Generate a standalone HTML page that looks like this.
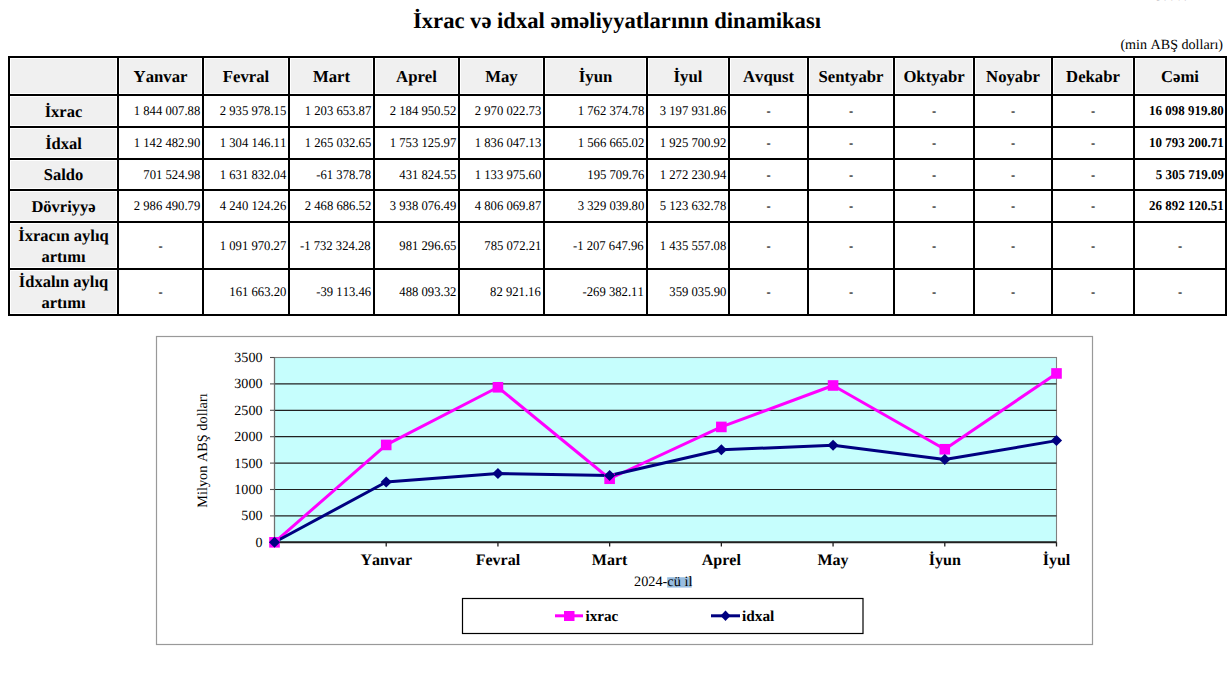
<!DOCTYPE html>
<html><head><meta charset="utf-8"><title>İxrac və idxal</title>
<style>
html,body{margin:0;padding:0;background:#fff;}
body{width:1232px;height:679px;position:relative;overflow:hidden;font-family:"Liberation Serif",serif;color:#000;font-kerning:none;text-rendering:geometricPrecision;}
svg text{font-kerning:none;}
.a{position:absolute;}
.ln{position:absolute;background:#000;}
.c{position:absolute;display:flex;align-items:center;justify-content:center;text-align:center;white-space:nowrap;}
.g{background:#f0f0f0;}
.hd{font-weight:bold;font-size:16.7px;padding-top:2px;box-sizing:border-box;}
.rh{font-weight:bold;font-size:16.5px;line-height:20.8px;padding-top:2px;box-sizing:border-box;}
.n{font-size:13.2px;justify-content:flex-end;padding-right:2px;box-sizing:border-box;}
.n span,.tot span{display:inline-block;transform:scaleX(0.96);transform-origin:100% 50%;}
.tot{font-weight:bold;font-size:13.5px;justify-content:flex-end;padding-right:1px;box-sizing:border-box;}
.d{font-size:12.6px;font-weight:bold;padding-top:1px;box-sizing:border-box;}
.db{font-weight:bold;font-size:12.6px;padding-top:1px;box-sizing:border-box;}
</style></head><body>

<div class="a" style="left:1153px;top:-11px;font-size:14px;line-height:16px;color:#444">Cədvəl 1</div>
<div class="a" style="left:0;width:1232px;top:8px;text-align:center;font-weight:bold;font-size:22.6px;line-height:26px;"><span style="position:relative;left:1px">İxrac və idxal əməliyyatlarının dinamikası</span></div>
<div class="a" style="right:9px;top:36px;font-size:14.1px;line-height:18px;">(min ABŞ dolları)</div>
<div class="a g" style="left:11px;top:59px;width:105px;height:34px"></div>
<div class="a g" style="left:11px;top:97px;width:105px;height:28px"></div>
<div class="a g" style="left:11px;top:129px;width:105px;height:28px"></div>
<div class="a g" style="left:11px;top:161px;width:105px;height:27px"></div>
<div class="a g" style="left:11px;top:192px;width:105px;height:28px"></div>
<div class="a g" style="left:11px;top:224px;width:105px;height:43px"></div>
<div class="a g" style="left:11px;top:271px;width:105px;height:42px"></div>
<div class="a g" style="left:120px;top:59px;width:81px;height:34px"></div>
<div class="a g" style="left:205px;top:59px;width:82px;height:34px"></div>
<div class="a g" style="left:291px;top:59px;width:81px;height:34px"></div>
<div class="a g" style="left:376px;top:59px;width:81px;height:34px"></div>
<div class="a g" style="left:461px;top:59px;width:81px;height:34px"></div>
<div class="a g" style="left:546px;top:59px;width:99px;height:34px"></div>
<div class="a g" style="left:649px;top:59px;width:78px;height:34px"></div>
<div class="a g" style="left:731px;top:59px;width:75px;height:34px"></div>
<div class="a g" style="left:810px;top:59px;width:82px;height:34px"></div>
<div class="a g" style="left:896px;top:59px;width:76px;height:34px"></div>
<div class="a g" style="left:976px;top:59px;width:74px;height:34px"></div>
<div class="a g" style="left:1054px;top:59px;width:78px;height:34px"></div>
<div class="a g" style="left:1136px;top:59px;width:88px;height:34px"></div>
<div class="ln" style="left:8px;top:56px;width:2px;height:260px"></div>
<div class="ln" style="left:117px;top:56px;width:2px;height:260px"></div>
<div class="ln" style="left:202px;top:56px;width:2px;height:260px"></div>
<div class="ln" style="left:288px;top:56px;width:2px;height:260px"></div>
<div class="ln" style="left:373px;top:56px;width:2px;height:260px"></div>
<div class="ln" style="left:458px;top:56px;width:2px;height:260px"></div>
<div class="ln" style="left:543px;top:56px;width:2px;height:260px"></div>
<div class="ln" style="left:646px;top:56px;width:2px;height:260px"></div>
<div class="ln" style="left:728px;top:56px;width:2px;height:260px"></div>
<div class="ln" style="left:807px;top:56px;width:2px;height:260px"></div>
<div class="ln" style="left:893px;top:56px;width:2px;height:260px"></div>
<div class="ln" style="left:973px;top:56px;width:2px;height:260px"></div>
<div class="ln" style="left:1051px;top:56px;width:2px;height:260px"></div>
<div class="ln" style="left:1133px;top:56px;width:2px;height:260px"></div>
<div class="ln" style="left:1225px;top:56px;width:2px;height:260px"></div>
<div class="ln" style="left:8px;top:56px;width:1219px;height:2px"></div>
<div class="ln" style="left:8px;top:94px;width:1219px;height:2px"></div>
<div class="ln" style="left:8px;top:126px;width:1219px;height:2px"></div>
<div class="ln" style="left:8px;top:158px;width:1219px;height:2px"></div>
<div class="ln" style="left:8px;top:189px;width:1219px;height:2px"></div>
<div class="ln" style="left:8px;top:221px;width:1219px;height:2px"></div>
<div class="ln" style="left:8px;top:268px;width:1219px;height:2px"></div>
<div class="ln" style="left:8px;top:314px;width:1219px;height:2px"></div>
<div class="c hd" style="left:119px;top:58px;width:83px;height:36px">Yanvar</div>
<div class="c hd" style="left:204px;top:58px;width:84px;height:36px">Fevral</div>
<div class="c hd" style="left:290px;top:58px;width:83px;height:36px">Mart</div>
<div class="c hd" style="left:375px;top:58px;width:83px;height:36px">Aprel</div>
<div class="c hd" style="left:460px;top:58px;width:83px;height:36px">May</div>
<div class="c hd" style="left:545px;top:58px;width:101px;height:36px">İyun</div>
<div class="c hd" style="left:648px;top:58px;width:80px;height:36px">İyul</div>
<div class="c hd" style="left:730px;top:58px;width:77px;height:36px">Avqust</div>
<div class="c hd" style="left:809px;top:58px;width:84px;height:36px">Sentyabr</div>
<div class="c hd" style="left:895px;top:58px;width:78px;height:36px">Oktyabr</div>
<div class="c hd" style="left:975px;top:58px;width:76px;height:36px">Noyabr</div>
<div class="c hd" style="left:1053px;top:58px;width:80px;height:36px">Dekabr</div>
<div class="c hd" style="left:1135px;top:58px;width:90px;height:36px">Cəmi</div>
<div class="c rh" style="left:10px;top:96px;width:107px;height:30px">İxrac</div>
<div class="c n" style="left:119px;top:96px;width:83px;height:30px"><span>1 844 007.88</span></div>
<div class="c n" style="left:204px;top:96px;width:84px;height:30px"><span>2 935 978.15</span></div>
<div class="c n" style="left:290px;top:96px;width:83px;height:30px"><span>1 203 653.87</span></div>
<div class="c n" style="left:375px;top:96px;width:83px;height:30px"><span>2 184 950.52</span></div>
<div class="c n" style="left:460px;top:96px;width:83px;height:30px"><span>2 970 022.73</span></div>
<div class="c n" style="left:545px;top:96px;width:101px;height:30px"><span>1 762 374.78</span></div>
<div class="c n" style="left:648px;top:96px;width:80px;height:30px"><span>3 197 931.86</span></div>
<div class="c d" style="left:730px;top:96px;width:77px;height:30px">-</div>
<div class="c d" style="left:809px;top:96px;width:84px;height:30px">-</div>
<div class="c d" style="left:895px;top:96px;width:78px;height:30px">-</div>
<div class="c d" style="left:975px;top:96px;width:76px;height:30px">-</div>
<div class="c d" style="left:1053px;top:96px;width:80px;height:30px">-</div>
<div class="c tot" style="left:1135px;top:96px;width:90px;height:30px"><span>16 098 919.80</span></div>
<div class="c rh" style="left:10px;top:128px;width:107px;height:30px">İdxal</div>
<div class="c n" style="left:119px;top:128px;width:83px;height:30px"><span>1 142 482.90</span></div>
<div class="c n" style="left:204px;top:128px;width:84px;height:30px"><span>1 304 146.11</span></div>
<div class="c n" style="left:290px;top:128px;width:83px;height:30px"><span>1 265 032.65</span></div>
<div class="c n" style="left:375px;top:128px;width:83px;height:30px"><span>1 753 125.97</span></div>
<div class="c n" style="left:460px;top:128px;width:83px;height:30px"><span>1 836 047.13</span></div>
<div class="c n" style="left:545px;top:128px;width:101px;height:30px"><span>1 566 665.02</span></div>
<div class="c n" style="left:648px;top:128px;width:80px;height:30px"><span>1 925 700.92</span></div>
<div class="c d" style="left:730px;top:128px;width:77px;height:30px">-</div>
<div class="c d" style="left:809px;top:128px;width:84px;height:30px">-</div>
<div class="c d" style="left:895px;top:128px;width:78px;height:30px">-</div>
<div class="c d" style="left:975px;top:128px;width:76px;height:30px">-</div>
<div class="c d" style="left:1053px;top:128px;width:80px;height:30px">-</div>
<div class="c tot" style="left:1135px;top:128px;width:90px;height:30px"><span>10 793 200.71</span></div>
<div class="c rh" style="left:10px;top:160px;width:107px;height:29px">Saldo</div>
<div class="c n" style="left:119px;top:160px;width:83px;height:29px"><span>701 524.98</span></div>
<div class="c n" style="left:204px;top:160px;width:84px;height:29px"><span>1 631 832.04</span></div>
<div class="c n" style="left:290px;top:160px;width:83px;height:29px"><span>-61 378.78</span></div>
<div class="c n" style="left:375px;top:160px;width:83px;height:29px"><span>431 824.55</span></div>
<div class="c n" style="left:460px;top:160px;width:83px;height:29px"><span>1 133 975.60</span></div>
<div class="c n" style="left:545px;top:160px;width:101px;height:29px"><span>195 709.76</span></div>
<div class="c n" style="left:648px;top:160px;width:80px;height:29px"><span>1 272 230.94</span></div>
<div class="c d" style="left:730px;top:160px;width:77px;height:29px">-</div>
<div class="c d" style="left:809px;top:160px;width:84px;height:29px">-</div>
<div class="c d" style="left:895px;top:160px;width:78px;height:29px">-</div>
<div class="c d" style="left:975px;top:160px;width:76px;height:29px">-</div>
<div class="c d" style="left:1053px;top:160px;width:80px;height:29px">-</div>
<div class="c tot" style="left:1135px;top:160px;width:90px;height:29px"><span>5 305 719.09</span></div>
<div class="c rh" style="left:10px;top:191px;width:107px;height:30px">Dövriyyə</div>
<div class="c n" style="left:119px;top:191px;width:83px;height:30px"><span>2 986 490.79</span></div>
<div class="c n" style="left:204px;top:191px;width:84px;height:30px"><span>4 240 124.26</span></div>
<div class="c n" style="left:290px;top:191px;width:83px;height:30px"><span>2 468 686.52</span></div>
<div class="c n" style="left:375px;top:191px;width:83px;height:30px"><span>3 938 076.49</span></div>
<div class="c n" style="left:460px;top:191px;width:83px;height:30px"><span>4 806 069.87</span></div>
<div class="c n" style="left:545px;top:191px;width:101px;height:30px"><span>3 329 039.80</span></div>
<div class="c n" style="left:648px;top:191px;width:80px;height:30px"><span>5 123 632.78</span></div>
<div class="c d" style="left:730px;top:191px;width:77px;height:30px">-</div>
<div class="c d" style="left:809px;top:191px;width:84px;height:30px">-</div>
<div class="c d" style="left:895px;top:191px;width:78px;height:30px">-</div>
<div class="c d" style="left:975px;top:191px;width:76px;height:30px">-</div>
<div class="c d" style="left:1053px;top:191px;width:80px;height:30px">-</div>
<div class="c tot" style="left:1135px;top:191px;width:90px;height:30px"><span>26 892 120.51</span></div>
<div class="c rh" style="left:10px;top:223px;width:107px;height:45px">İxracın aylıq<br>artımı</div>
<div class="c d" style="left:119px;top:223px;width:83px;height:45px">-</div>
<div class="c n" style="left:204px;top:223px;width:84px;height:45px"><span>1 091 970.27</span></div>
<div class="c n" style="left:290px;top:223px;width:83px;height:45px"><span>-1 732 324.28</span></div>
<div class="c n" style="left:375px;top:223px;width:83px;height:45px"><span>981 296.65</span></div>
<div class="c n" style="left:460px;top:223px;width:83px;height:45px"><span>785 072.21</span></div>
<div class="c n" style="left:545px;top:223px;width:101px;height:45px"><span>-1 207 647.96</span></div>
<div class="c n" style="left:648px;top:223px;width:80px;height:45px"><span>1 435 557.08</span></div>
<div class="c d" style="left:730px;top:223px;width:77px;height:45px">-</div>
<div class="c d" style="left:809px;top:223px;width:84px;height:45px">-</div>
<div class="c d" style="left:895px;top:223px;width:78px;height:45px">-</div>
<div class="c d" style="left:975px;top:223px;width:76px;height:45px">-</div>
<div class="c d" style="left:1053px;top:223px;width:80px;height:45px">-</div>
<div class="c db" style="left:1135px;top:223px;width:90px;height:45px">-</div>
<div class="c rh" style="left:10px;top:270px;width:107px;height:44px">İdxalın aylıq<br>artımı</div>
<div class="c d" style="left:119px;top:270px;width:83px;height:44px">-</div>
<div class="c n" style="left:204px;top:270px;width:84px;height:44px"><span>161 663.20</span></div>
<div class="c n" style="left:290px;top:270px;width:83px;height:44px"><span>-39 113.46</span></div>
<div class="c n" style="left:375px;top:270px;width:83px;height:44px"><span>488 093.32</span></div>
<div class="c n" style="left:460px;top:270px;width:83px;height:44px"><span>82 921.16</span></div>
<div class="c n" style="left:545px;top:270px;width:101px;height:44px"><span>-269 382.11</span></div>
<div class="c n" style="left:648px;top:270px;width:80px;height:44px"><span>359 035.90</span></div>
<div class="c d" style="left:730px;top:270px;width:77px;height:44px">-</div>
<div class="c d" style="left:809px;top:270px;width:84px;height:44px">-</div>
<div class="c d" style="left:895px;top:270px;width:78px;height:44px">-</div>
<div class="c d" style="left:975px;top:270px;width:76px;height:44px">-</div>
<div class="c d" style="left:1053px;top:270px;width:80px;height:44px">-</div>
<div class="c db" style="left:1135px;top:270px;width:90px;height:44px">-</div>
<svg class="a" style="left:0;top:0" width="1232" height="679" viewBox="0 0 1232 679" font-family="Liberation Serif, serif">
<rect x="156.5" y="336.5" width="936" height="308" fill="#fff" stroke="#999" stroke-width="1.2"/>
<rect x="274.5" y="357.5" width="782.0" height="184.79999999999995" fill="#c6fefd" stroke="#808080" stroke-width="1.1"/>
<line x1="274.5" y1="515.90" x2="1056.5" y2="515.90" stroke="#202020" stroke-width="1.2"/>
<line x1="274.5" y1="489.50" x2="1056.5" y2="489.50" stroke="#202020" stroke-width="1.2"/>
<line x1="274.5" y1="463.10" x2="1056.5" y2="463.10" stroke="#202020" stroke-width="1.2"/>
<line x1="274.5" y1="436.70" x2="1056.5" y2="436.70" stroke="#202020" stroke-width="1.2"/>
<line x1="274.5" y1="410.30" x2="1056.5" y2="410.30" stroke="#202020" stroke-width="1.2"/>
<line x1="274.5" y1="383.90" x2="1056.5" y2="383.90" stroke="#202020" stroke-width="1.2"/>
<line x1="274.5" y1="357.5" x2="274.5" y2="542.3" stroke="#707070" stroke-width="1.2"/>
<line x1="274.5" y1="542.3" x2="1056.5" y2="542.3" stroke="#202020" stroke-width="2"/>
<line x1="270" y1="542.30" x2="274.5" y2="542.30" stroke="#505050" stroke-width="1.1"/>
<text x="262.5" y="546.70" font-size="14.1" text-anchor="end" fill="#000">0</text>
<line x1="270" y1="515.90" x2="274.5" y2="515.90" stroke="#505050" stroke-width="1.1"/>
<text x="262.5" y="520.30" font-size="14.1" text-anchor="end" fill="#000">500</text>
<line x1="270" y1="489.50" x2="274.5" y2="489.50" stroke="#505050" stroke-width="1.1"/>
<text x="262.5" y="493.90" font-size="14.1" text-anchor="end" fill="#000">1000</text>
<line x1="270" y1="463.10" x2="274.5" y2="463.10" stroke="#505050" stroke-width="1.1"/>
<text x="262.5" y="467.50" font-size="14.1" text-anchor="end" fill="#000">1500</text>
<line x1="270" y1="436.70" x2="274.5" y2="436.70" stroke="#505050" stroke-width="1.1"/>
<text x="262.5" y="441.10" font-size="14.1" text-anchor="end" fill="#000">2000</text>
<line x1="270" y1="410.30" x2="274.5" y2="410.30" stroke="#505050" stroke-width="1.1"/>
<text x="262.5" y="414.70" font-size="14.1" text-anchor="end" fill="#000">2500</text>
<line x1="270" y1="383.90" x2="274.5" y2="383.90" stroke="#505050" stroke-width="1.1"/>
<text x="262.5" y="388.30" font-size="14.1" text-anchor="end" fill="#000">3000</text>
<line x1="270" y1="357.50" x2="274.5" y2="357.50" stroke="#505050" stroke-width="1.1"/>
<text x="262.5" y="361.90" font-size="14.1" text-anchor="end" fill="#000">3500</text>
<line x1="386.21" y1="542.3" x2="386.21" y2="546.5" stroke="#202020" stroke-width="1.3"/>
<text x="386.21" y="565" font-size="16" font-weight="bold" text-anchor="middle" fill="#000">Yanvar</text>
<line x1="497.93" y1="542.3" x2="497.93" y2="546.5" stroke="#202020" stroke-width="1.3"/>
<text x="497.93" y="565" font-size="16" font-weight="bold" text-anchor="middle" fill="#000">Fevral</text>
<line x1="609.64" y1="542.3" x2="609.64" y2="546.5" stroke="#202020" stroke-width="1.3"/>
<text x="609.64" y="565" font-size="16" font-weight="bold" text-anchor="middle" fill="#000">Mart</text>
<line x1="721.36" y1="542.3" x2="721.36" y2="546.5" stroke="#202020" stroke-width="1.3"/>
<text x="721.36" y="565" font-size="16" font-weight="bold" text-anchor="middle" fill="#000">Aprel</text>
<line x1="833.07" y1="542.3" x2="833.07" y2="546.5" stroke="#202020" stroke-width="1.3"/>
<text x="833.07" y="565" font-size="16" font-weight="bold" text-anchor="middle" fill="#000">May</text>
<line x1="944.79" y1="542.3" x2="944.79" y2="546.5" stroke="#202020" stroke-width="1.3"/>
<text x="944.79" y="565" font-size="16" font-weight="bold" text-anchor="middle" fill="#000">İyun</text>
<line x1="1056.50" y1="542.3" x2="1056.50" y2="546.5" stroke="#202020" stroke-width="1.3"/>
<text x="1056.50" y="565" font-size="16" font-weight="bold" text-anchor="middle" fill="#000">İyul</text>
<text transform="translate(206.5,450.5) rotate(-90)" font-size="14.3" text-anchor="middle" fill="#000">Milyon ABŞ dolları</text>
<rect x="667.2" y="577.2" width="24.5" height="10.4" fill="#98bde0"/>
<text x="634" y="586" font-size="14.3" fill="#000">2024-cü il</text>
<polyline points="274.50,542.30 386.21,444.94 497.93,387.28 609.64,478.75 721.36,426.93 833.07,385.48 944.79,449.25 1056.50,373.45" fill="none" stroke="#ff00ff" stroke-width="3" stroke-linejoin="round"/>
<polyline points="274.50,542.30 386.21,481.98 497.93,473.44 609.64,475.51 721.36,449.73 833.07,445.36 944.79,459.58 1056.50,440.62" fill="none" stroke="#000080" stroke-width="3" stroke-linejoin="round"/>
<rect x="269.20" y="537.00" width="10.6" height="10.6" fill="#ff00ff"/>
<rect x="380.91" y="439.64" width="10.6" height="10.6" fill="#ff00ff"/>
<rect x="492.63" y="381.98" width="10.6" height="10.6" fill="#ff00ff"/>
<rect x="604.34" y="473.45" width="10.6" height="10.6" fill="#ff00ff"/>
<rect x="716.06" y="421.63" width="10.6" height="10.6" fill="#ff00ff"/>
<rect x="827.77" y="380.18" width="10.6" height="10.6" fill="#ff00ff"/>
<rect x="939.49" y="443.95" width="10.6" height="10.6" fill="#ff00ff"/>
<rect x="1051.20" y="368.15" width="10.6" height="10.6" fill="#ff00ff"/>
<polygon points="274.50,536.80 280.10,542.30 274.50,547.80 268.90,542.30" fill="#000080"/>
<polygon points="386.21,476.48 391.81,481.98 386.21,487.48 380.61,481.98" fill="#000080"/>
<polygon points="497.93,467.94 503.53,473.44 497.93,478.94 492.33,473.44" fill="#000080"/>
<polygon points="609.64,470.01 615.24,475.51 609.64,481.01 604.04,475.51" fill="#000080"/>
<polygon points="721.36,444.23 726.96,449.73 721.36,455.23 715.76,449.73" fill="#000080"/>
<polygon points="833.07,439.86 838.67,445.36 833.07,450.86 827.47,445.36" fill="#000080"/>
<polygon points="944.79,454.08 950.39,459.58 944.79,465.08 939.19,459.58" fill="#000080"/>
<polygon points="1056.50,435.12 1062.10,440.62 1056.50,446.12 1050.90,440.62" fill="#000080"/>
<rect x="462.5" y="598.5" width="400.5" height="35" fill="#fff" stroke="#000" stroke-width="1.2"/>
<line x1="555" y1="615.8" x2="583" y2="615.8" stroke="#ff00ff" stroke-width="3"/>
<rect x="564" y="611" width="10.5" height="10" fill="#ff00ff"/>
<text x="585.5" y="620.8" font-size="15.1" font-weight="bold" fill="#000">ixrac</text>
<line x1="711" y1="615.8" x2="740" y2="615.8" stroke="#000080" stroke-width="3"/>
<polygon points="725.5,610.5 730.5,615.8 725.5,621 720.5,615.8" fill="#000080"/>
<text x="742" y="620.8" font-size="15.3" font-weight="bold" fill="#000">idxal</text>
</svg>
</body></html>
